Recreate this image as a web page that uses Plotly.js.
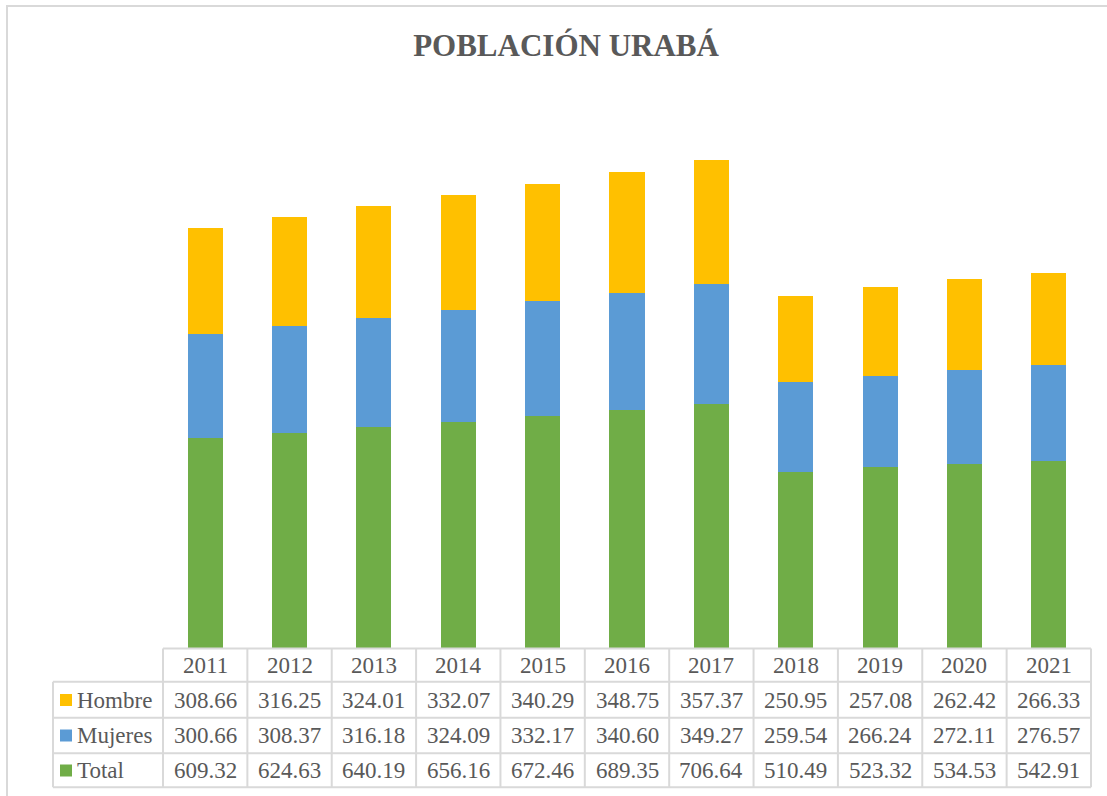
<!DOCTYPE html>
<html>
<head>
<meta charset="utf-8">
<script src="https://cdn.plot.ly/plotly-3.0.1.min.js"></script>
<style>html,body{margin:0;padding:0;background:#fff;}#chart{width:1107px;height:796px;}</style>
</head>
<body>
<div id="chart"></div>
<script>
const years = ['2011','2012','2013','2014','2015','2016','2017','2018','2019','2020','2021'];
const hombre = [308.66,316.25,324.01,332.07,340.29,348.75,357.37,250.95,257.08,262.42,266.33];
const mujeres = [300.66,308.37,316.18,324.09,332.17,340.60,349.27,259.54,266.24,272.11,276.57];
const total = [609.32,624.63,640.19,656.16,672.46,689.35,706.64,510.49,523.32,534.53,542.91];
const seriesNames = ['Hombre','Mujeres','Total'];
const seriesColors = {Hombre:'#FFC000', Mujeres:'#5B9BD5', Total:'#70AD47'};

const W = 1107, H = 796;
const PL = 163, PR = 1091, PT = 96, PB = 648;
const px2x = p => (p - PL) / (PR - PL);
const py2y = p => (PB - p) / (PB - PT);

const textColor = '#595959';
const serif = 'Liberation Serif, Times New Roman, serif';
const font = {family: serif, size: 23, color: textColor};
const gridColor = '#d9d9d9';

const traces = [
  {type:'bar', name:'Total', x:years, y:total, marker:{color:seriesColors.Total}},
  {type:'bar', name:'Mujeres', x:years, y:mujeres, marker:{color:seriesColors.Mujeres}},
  {type:'bar', name:'Hombre', x:years, y:hombre, marker:{color:seriesColors.Hombre}}
];

// table geometry (pixels)
const rowLines = [648.5, 681.7, 717.7, 753.3, 787.3];
const labelLeft = 53;
const rowCenters = {header: 665.5, Hombre: 700, Mujeres: 735.5, Total: 770.5};
const rowData = {Hombre: hombre, Mujeres: mujeres, Total: total};

const shapes = [];
const annotations = [];

// outer frame
shapes.push({type:'rect', xref:'paper', yref:'paper', x0:px2x(7), x1:px2x(1130), y0:py2y(6), y1:py2y(820),
  line:{color:'#d9d9d9', width:2}, fillcolor:'rgba(0,0,0,0)', layer:'below'});

// horizontal lines
shapes.push({type:'line', xref:'paper', yref:'paper', x0:0, x1:1, y0:py2y(rowLines[0]), y1:py2y(rowLines[0]), line:{color:gridColor, width:2}});
for (let i = 1; i < rowLines.length; i++) {
  shapes.push({type:'line', xref:'paper', yref:'paper', x0:px2x(labelLeft), x1:1, y0:py2y(rowLines[i]), y1:py2y(rowLines[i]), line:{color:gridColor, width:2}});
}
// vertical lines
shapes.push({type:'line', xref:'paper', yref:'paper', x0:px2x(labelLeft), x1:px2x(labelLeft), y0:py2y(rowLines[1]), y1:py2y(rowLines[4]), line:{color:gridColor, width:2}});
for (let i = 0; i <= years.length; i++) {
  const xv = i / years.length;
  shapes.push({type:'line', xref:'paper', yref:'paper', x0:xv, x1:xv, y0:py2y(rowLines[0]), y1:py2y(rowLines[4]), line:{color:gridColor, width:2}});
}

// header years
years.forEach((y, i) => {
  annotations.push({xref:'x', yref:'paper', x:i, y:py2y(rowCenters.header), text:y, showarrow:false, font:font, xanchor:'center', yanchor:'middle'});
});

// rows
seriesNames.forEach(name => {
  const cy = rowCenters[name];
  shapes.push({type:'rect', xref:'paper', yref:'paper', x0:px2x(60), x1:px2x(72), y0:py2y(cy-6), y1:py2y(cy+6),
    line:{width:0}, fillcolor:seriesColors[name]});
  annotations.push({xref:'paper', yref:'paper', x:px2x(75), y:py2y(cy), text:name, showarrow:false, font:font, xanchor:'left', yanchor:'middle'});
  rowData[name].forEach((v, i) => {
    annotations.push({xref:'x', yref:'paper', x:i, y:py2y(cy), text:v.toFixed(2), showarrow:false, font:font, xanchor:'center', yanchor:'middle'});
  });
});

const layout = {
  width: W, height: H,
  margin: {l: PL, r: W - PR, t: PT, b: H - PB, pad: 0},
  paper_bgcolor: '#ffffff', plot_bgcolor: '#ffffff',
  barmode: 'stack', bargap: 0.585,
  showlegend: false,
  hovermode: false,
  title: {text: '<b>POBLACIÓN URABÁ</b>', x: 566/W, xanchor: 'center', y: 1 - 45/H, yanchor: 'middle', yref: 'container',
    font: {family: serif, size: 31, color: textColor}},
  xaxis: {type: 'category', range: [-0.5, 10.5], showticklabels: false, showline: false, showgrid: false, zeroline: false, ticks: ''},
  yaxis: {range: [0, 1600], visible: false, showgrid: false, zeroline: false},
  shapes: shapes,
  annotations: annotations
};

Plotly.newPlot('chart', traces, layout, {displayModeBar: false, staticPlot: true});
</script>
</body>
</html>
